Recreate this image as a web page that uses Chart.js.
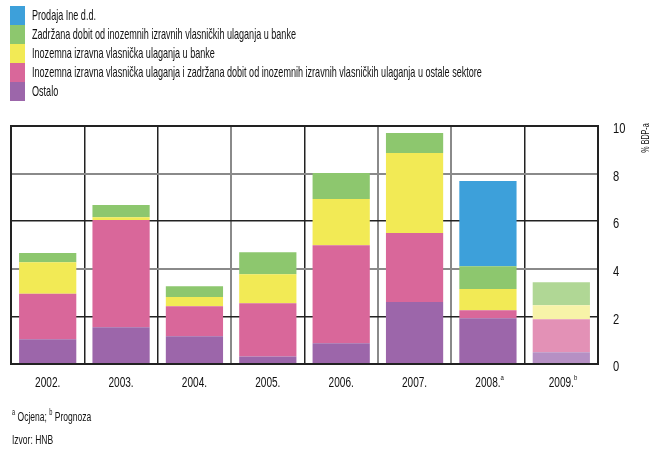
<!DOCTYPE html>
<html lang="hr">
<head>
  <meta charset="UTF-8">
  <title>Inozemna izravna ulaganja</title>
  <script src="https://cdn.jsdelivr.net/npm/chart.js"></script>
  <style>
    body { margin: 0; width: 672px; height: 451px; position: relative; background: #fff;
           font-family: "Liberation Sans", Arial, sans-serif; color: #111; overflow: hidden; }
    #chartWrapper { position: absolute; left: 0; top: 0; width: 672px; height: 451px; }
    #legend { position: absolute; left: 10px; top: 6px; }
    .row { height: 19px; line-height: 19px; font-size: 14.5px; white-space: nowrap; }
    .box { display: inline-block; width: 15px; height: 19px; vertical-align: top; margin-right: 7px; }
    .txt { display: inline-block; transform: scaleX(0.625); transform-origin: left center; }
    .note { position: absolute; left: 12px; font-size: 13.5px; line-height: 16px; white-space: nowrap;
            transform: scaleX(0.63); transform-origin: left center; }
    .note sup { font-size: 9px; }
  </style>
</head>
<body>
  <div id="chartWrapper">
    <canvas id="fdiChart" width="672" height="451"></canvas>
  </div>
  <div id="legend"></div>
  <div class="note" style="top:404px"><sup>a</sup> Ocjena; <sup>b</sup> Prognoza</div>
  <div class="note" style="top:432px">Izvor: HNB</div>

  <script>
    // podaci, % BDP-a
    const years = ['2002.', '2003.', '2004.', '2005.', '2006.', '2007.', '2008.', '2009.'];
    const yearNotes = ['', '', '', '', '', '', 'a', 'b'];
    const ostalo = [1.04, 1.54, 1.17, 0.32, 0.87, 2.60, 1.92, 0.49];
    const ostaliSektori = [1.91, 4.51, 1.26, 2.23, 4.12, 2.90, 0.34, 1.39];
    const ulaganjaBanke = [1.33, 0.12, 0.38, 1.22, 1.94, 3.37, 0.89, 0.59];
    const zadrzanaDobit = [0.38, 0.51, 0.46, 0.93, 1.09, 0.84, 0.96, 0.97];
    const prodajaIne = [null, null, null, null, null, null, 3.58, null];
    const yTicks = [0, 2, 4, 6, 8, 10];

    const series = [
      { label: 'Prodaja Ine d.d.', data: prodajaIne, color: '#3da0da', light: '#3da0da' },
      { label: 'Zadržana dobit od inozemnih izravnih vlasničkih ulaganja u banke', data: zadrzanaDobit, color: '#8dc76e', light: '#b0d795' },
      { label: 'Inozemna izravna vlasnička ulaganja u banke', data: ulaganjaBanke, color: '#f2ea55', light: '#f7f3a8' },
      { label: 'Inozemna izravna vlasnička ulaganja i zadržana dobit od inozemnih izravnih vlasničkih ulaganja u ostale sektore', data: ostaliSektori, color: '#d9679a', light: '#e391b6' },
      { label: 'Ostalo', data: ostalo, color: '#9c66aa', light: '#b690c4' }
    ];

    // legenda
    const legend = document.getElementById('legend');
    series.forEach(s => {
      const row = document.createElement('div');
      row.className = 'row';
      row.innerHTML = '<span class="box" style="background:' + s.color + '"></span><span class="txt">' + s.label + '</span>';
      legend.appendChild(row);
    });

    // 2009. je prognoza - svjetlije boje
    const datasets = series.slice().reverse().map(s => ({
      label: s.label,
      data: s.data,
      backgroundColor: years.map((y, i) => i === years.length - 1 ? s.light : s.color),
      borderWidth: 0,
      barPercentage: 0.78,
      categoryPercentage: 1
    }));

    const DARK = '#222', GRAY = '#8a8a8a';
    const hColors = { 0: DARK, 2: DARK, 4: GRAY, 6: DARK, 8: GRAY, 10: DARK };
    const vColors = [DARK, DARK, DARK, GRAY, DARK, GRAY, GRAY, DARK, DARK];
    const FONT = '"Liberation Sans", Arial, sans-serif';

    // uski tekst (condensed) - canvas nema takav font pa se skalira
    function narrowText(ctx, text, x, y, size, sx, align) {
      ctx.save();
      ctx.font = size + 'px ' + FONT;
      ctx.translate(x, y);
      ctx.scale(sx, 1);
      ctx.textAlign = align;
      ctx.textBaseline = 'middle';
      ctx.fillText(text, 0, 0);
      const w = ctx.measureText(text).width * sx;
      ctx.restore();
      return w;
    }

    const frame = {
      id: 'frame',
      afterDraw(chart) {
        const { ctx, chartArea: a } = chart;
        ctx.save();
        ctx.strokeStyle = DARK;
        ctx.lineWidth = 2;
        ctx.strokeRect(a.left, a.top, a.right - a.left, a.bottom - a.top);
        ctx.fillStyle = '#111';

        const xs = chart.scales.x;
        years.forEach((lab, i) => {
          const x = xs.getPixelForTick(i);
          const w = narrowText(ctx, lab, x, 383, 15.5, 0.65, 'center');
          if (yearNotes[i]) narrowText(ctx, yearNotes[i], x + w / 2, 378, 8, 0.75, 'left');
        });

        const ys = chart.scales.y;
        yTicks.forEach(v => {
          narrowText(ctx, String(v), a.right + 15, ys.getPixelForValue(v) + 3, 15.5, 0.72, 'left');
        });

        // naslov osi
        ctx.translate(646, 138);
        ctx.rotate(-Math.PI / 2);
        narrowText(ctx, '% BDP-a', 0, 0, 11.5, 0.62, 'center');
        ctx.restore();
      }
    };

    new Chart(document.getElementById('fdiChart').getContext('2d'), {
      type: 'bar',
      data: { labels: years, datasets: datasets },
      plugins: [frame],
      options: {
        responsive: false,
        animation: false,
        layout: { padding: { left: 11, top: 126, right: 0, bottom: 0 } },
        plugins: { legend: { display: false }, tooltip: { enabled: false } },
        scales: {
          x: {
            stacked: true,
            afterFit(scale) { scale.height = 87; },
            grid: {
              offset: true,
              drawTicks: false,
              lineWidth: ctx => vColors[ctx.index] === GRAY ? 2 : 1.5,
              color: ctx => vColors[ctx.index] || DARK
            },
            border: { display: false },
            ticks: { display: false }
          },
          y: {
            stacked: true,
            position: 'right',
            min: 0,
            max: 10,
            afterFit(scale) { scale.width = 74; },
            afterBuildTicks(scale) { scale.ticks = yTicks.map(v => ({ value: v })); },
            grid: {
              drawTicks: false,
              lineWidth: ctx => hColors[ctx.tick.value] === GRAY ? 2 : 1.5,
              color: ctx => hColors[ctx.tick.value] || DARK
            },
            border: { display: false },
            ticks: { display: false }
          }
        }
      }
    });
  </script>
</body>
</html>
